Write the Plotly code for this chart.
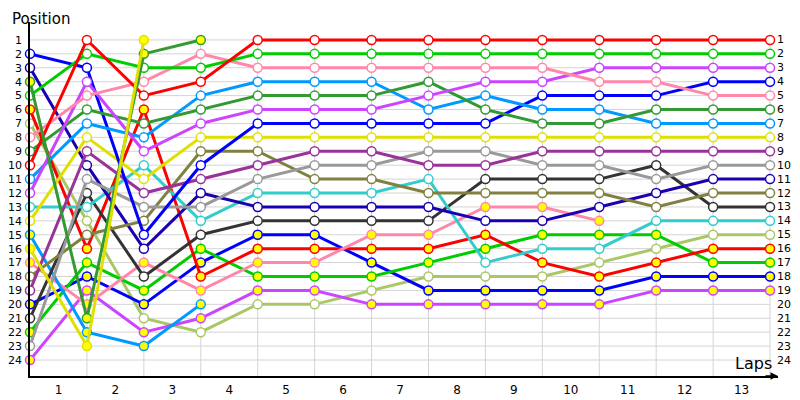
import plotly.graph_objects as go

# lap numbers (0 = grid)
laps = list(range(14))

# positions per driver, lap 0 .. last completed lap
red_1 = [10, 1, 5, 4, 1, 1, 1, 1, 1, 1, 1, 1, 1, 1]
green_1 = [5, 2, 3, 3, 2, 2, 2, 2, 2, 2, 2, 2, 2, 2]
blue_1 = [2, 3, 15, 10, 7, 7, 7, 7, 7, 5, 5, 5, 4, 4]
violet_1 = [12, 4, 9, 7, 6, 6, 6, 5, 4, 4, 3, 3, 3, 3]
pink_1 = [8, 5, 4, 2, 3, 3, 3, 3, 3, 3, 4, 4, 5, 5]
darkgreen_1 = [9, 6, 7, 6, 5, 5, 5, 4, 6, 7, 7, 6, 6, 6]
lightblue_1 = [11, 7, 8, 5, 4, 4, 4, 6, 5, 6, 6, 7, 7, 7]
yellow_1 = [14, 8, 11, 8, 8, 8, 8, 8, 8, 8, 8, 8, 8, 8]
purple_1 = [19, 9, 12, 11, 10, 9, 9, 10, 10, 9, 9, 9, 9, 9]
navy_1 = [3, 10, 16, 12, 13, 13, 13, 13, 14, 14, 13, 12, 11, 11]
gray_1 = [23, 11, 13, 13, 11, 10, 10, 9, 9, 10, 10, 11, 10, 10]
darkgray_1 = [21, 12, 18, 15, 14, 14, 14, 14, 11, 11, 11, 10, 13, 13]
cyan_1 = [13, 13, 10, 14, 12, 12, 12, 11, 17, 16, 16, 14, 14, 14]
lightolive_1 = [7, 14, 21, 22, 20, 20, 19, 18, 18, 18, 17, 16, 15, 15]
olive_1 = [18, 15, 14, 9, 9, 11, 11, 12, 12, 12, 12, 13, 12, 12]
red_2 = [6, 16, 6, 18, 16, 16, 16, 16, 15, 17, 18, 17, 16, 16]
green_2 = [22, 17, 19, 16, 18, 18, 18, 17, 16, 15, 15, 15, 17, 17]
blue_2 = [20, 18, 20, 17, 15, 15, 17, 19, 19, 19, 19, 18, 18, 18]
violet_2 = [24, 19, 22, 21, 19, 19, 20, 20, 20, 20, 20, 19, 19, 19]
pink_2 = [17, 20, 17, 19, 17, 17, 15, 15, 13, 13, 14]
darkgreen_2 = [4, 21, 2, 1]
lightblue_2 = [15, 22, 23, 20]
yellow_2 = [16, 23, 1]

position_labels = [str(p) for p in range(1, 25)]
lap_labels = [str(l) for l in range(1, 14)]

RED = "#ff0000"
GREEN = "#00cc00"
DKGREEN = "#339933"
BLUE = "#0000ff"
NAVY = "#1a00b0"
LTBLUE = "#0099ff"
CYAN = "#33cccc"
PINK = "#ff88aa"
VIOLET = "#cc44ff"
PURPLE = "#993399"
YELLOW = "#e0e000"
OLIVE = "#808040"
LTOLIVE = "#aac766"
GRAY = "#999999"
DKGRAY = "#333333"

# (positions, colour, filled-yellow marker?)
drivers = [
    (lightolive_1, LTOLIVE, False),
    (violet_2, VIOLET, True),
    (blue_2, BLUE, True),
    (green_2, GREEN, True),
    (red_2, RED, True),
    (pink_2, PINK, True),
    (lightblue_2, LTBLUE, True),
    (darkgray_1, DKGRAY, False),
    (cyan_1, CYAN, False),
    (navy_1, NAVY, False),
    (olive_1, OLIVE, False),
    (gray_1, GRAY, False),
    (purple_1, PURPLE, False),
    (yellow_1, YELLOW, False),
    (blue_1, BLUE, False),
    (lightblue_1, LTBLUE, False),
    (darkgreen_1, DKGREEN, False),
    (violet_1, VIOLET, False),
    (pink_1, PINK, False),
    (green_1, GREEN, False),
    (red_1, RED, False),
    (darkgreen_2, DKGREEN, True),
    (yellow_2, YELLOW, True),
]

fig = go.Figure()

# grid
for p in range(1, 25):
    fig.add_shape(type="line", x0=0, x1=13, y0=p, y1=p, layer="below",
                  line=dict(color="#d4d4d4", width=1))
for l in laps[1:]:
    fig.add_shape(type="line", x0=l, x1=l, y0=1, y1=25.15, layer="below",
                  line=dict(color="#d4d4d4", width=1))

for pos, col, filled in drivers:
    fig.add_trace(go.Scatter(
        x=laps[:len(pos)], y=pos,
        mode="lines+markers",
        line=dict(color=col, width=3),
        marker=dict(size=9, color="#ffff00" if filled else "white",
                    line=dict(color=col, width=1.5)),
        cliponaxis=False,
        hoverinfo="x+y",
    ))

# right-hand position labels
for i, lab in enumerate(position_labels):
    fig.add_annotation(x=13, y=i + 1, text=lab, showarrow=False,
                       xanchor="left", xshift=5,
                       font=dict(size=11, color="#000000"))

# x-axis arrow head
fig.add_annotation(x=13.14, y=25.15, ax=-14, ay=0, text="", showarrow=True,
                   arrowhead=2, arrowsize=1, arrowwidth=1.5, arrowcolor="black")

fig.add_annotation(x=-0.0267, y=1.0395, xref="paper", yref="paper", text="Position",
                   showarrow=False, xanchor="left", yanchor="top",
                   font=dict(size=15, color="#000000"))
fig.add_annotation(x=0.9947, y=0.034, xref="paper", yref="paper", text="Laps",
                   showarrow=False, xanchor="right", yanchor="middle",
                   font=dict(size=16, color="#000000"))

# page body adds an 8px offset, so the figure is drawn 8px smaller
fig.update_layout(
    width=792, height=392,
    margin=dict(l=22, r=22, t=14, b=24, autoexpand=False),
    paper_bgcolor="white", plot_bgcolor="white",
    showlegend=False,
    font=dict(family="DejaVu Sans", size=11, color="#000000"),
    xaxis=dict(range=[0, 13.14], showgrid=False, zeroline=False, automargin=False,
               showline=True, linecolor="black", linewidth=1.5,
               tickvals=[l - 0.5 for l in laps[1:]], ticktext=lap_labels,
               ticks="outside", ticklen=2, tickcolor="rgba(0,0,0,0)",
               tickfont=dict(size=12)),
    yaxis=dict(range=[25.15, -0.29], showgrid=False, zeroline=False, automargin=False,
               showline=True, linecolor="black", linewidth=1.5,
               tickvals=list(range(1, 25)), ticktext=position_labels,
               ticks="outside", ticklen=4, tickcolor="rgba(0,0,0,0)",
               tickfont=dict(size=11)),
)

fig.write_html("out.html")
